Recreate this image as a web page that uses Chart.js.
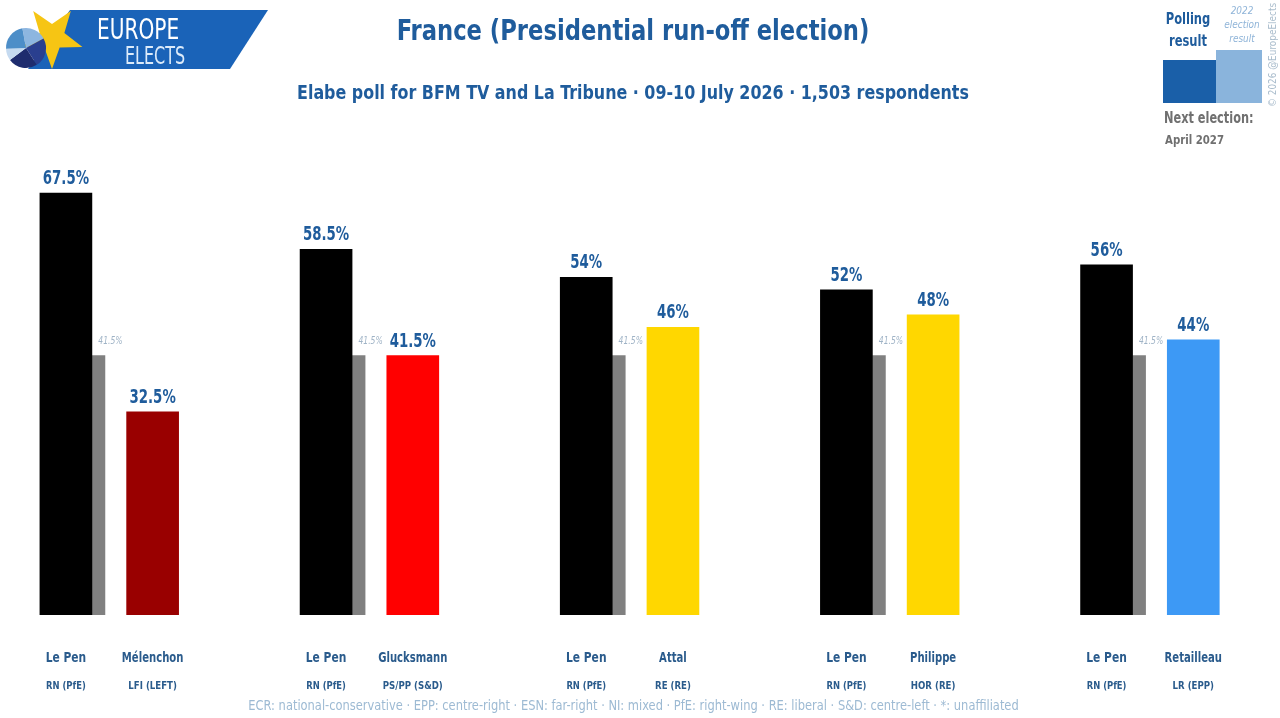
<!DOCTYPE html>
<html><head><meta charset="utf-8">
<script src="https://cdn.jsdelivr.net/npm/chart.js@4"></script>
<style>html,body{margin:0;padding:0;background:#fff;overflow:hidden}canvas{display:block}</style>
</head><body>
<canvas id="c" width="1280" height="718"></canvas>
<script>
// ---- data ----
const lePenName = 'Le Pen';
const lePenParty = 'RN (PfE)';
const challengerNames = ['Mélenchon', 'Glucksmann', 'Attal', 'Philippe', 'Retailleau'];
const challengerParties = ['LFI (LEFT)', 'PS/PP (S&D)', 'RE (RE)', 'HOR (RE)', 'LR (EPP)'];
const lePenValues = [67.5, 58.5, 54, 52, 56];
const challengerValues = [32.5, 41.5, 46, 48, 44];
const lePen2022Values = [41.5, 41.5, 41.5, 41.5, 41.5];
const challengerColors = ['#990000', '#ff0000', '#ffd700', '#ffd700', '#3d99f5'];

const titleText = 'France (Presidential run-off election)';
const subtitleText = 'Elabe poll for BFM TV and La Tribune · 09-10 July 2026 · 1,503 respondents';
const footnoteText = 'ECR: national-conservative · EPP: centre-right · ESN: far-right · NI: mixed · PfE: right-wing · RE: liberal · S&D: centre-left · *: unaffiliated';

// ---- layout helpers ----
const FONT = "'Liberation Sans Narrow', 'DejaVu Sans Condensed', 'Noto Sans', sans-serif";
const BLUE = '#1f5c9c';
const SLOT = 3;          // slots per matchup
const GREY_OFFSET = 0.375;
const fmt = v => String(v) + '%';

// draws text horizontally condensed by factor sx
function txt(ctx, s, x, y, font, color, align, sx, baseline) {
  ctx.save();
  ctx.font = font;
  ctx.fillStyle = color;
  ctx.textAlign = align || 'center';
  ctx.textBaseline = baseline || 'middle';
  ctx.translate(x, y);
  ctx.scale(sx || 1, 1);
  ctx.fillText(s, 0, 0);
  ctx.restore();
}

function star(ctx, cx, cy, ro, ri, rot) {
  ctx.beginPath();
  for (let i = 0; i < 10; i++) {
    const r = i % 2 === 0 ? ro : ri;
    const a = rot + i * Math.PI / 5 - Math.PI / 2;
    const px = cx + r * Math.cos(a), py = cy + r * Math.sin(a);
    i === 0 ? ctx.moveTo(px, py) : ctx.lineTo(px, py);
  }
  ctx.closePath();
  ctx.fill();
}

const decorPlugin = {
  id: 'decor',
  beforeDraw(chart) {
    const ctx = chart.ctx;
    ctx.save();
    ctx.fillStyle = '#fff';
    ctx.fillRect(0, 0, chart.width, chart.height);
    // logo band
    ctx.fillStyle = '#1a63b8';
    ctx.beginPath();
    ctx.moveTo(70, 10); ctx.lineTo(268, 10); ctx.lineTo(230, 69); ctx.lineTo(28, 69); ctx.closePath();
    ctx.fill();
    // star
    ctx.fillStyle = '#f6c514';
    star(ctx, 52, 37, 32, 13, Math.PI / 5);
    // pie
    const pcx = 26, pcy = 48, pr = 20;
    const slices = [[-1.75, -0.5, '#8db6e0'], [-0.5, 1.0, '#2a3f8f'], [1.0, 2.5, '#1e2c6e'], [2.5, 3.1, '#c5daf0'], [3.1, 4.53, '#4d8ec8']];
    slices.forEach(s => {
      ctx.fillStyle = s[2];
      ctx.beginPath(); ctx.moveTo(pcx, pcy); ctx.arc(pcx, pcy, pr, s[0], s[1]); ctx.closePath(); ctx.fill();
    });
    // logo text
    txt(ctx, 'EUROPE', 97, 39, '28px ' + FONT, '#ffffff', 'left', 0.8, 'alphabetic');
    txt(ctx, 'ELECTS', 125, 64, '24px ' + FONT, '#dcebfa', 'left', 0.74, 'alphabetic');

    // titles
    txt(ctx, titleText, 633, 33, 'bold 28px ' + FONT, BLUE, 'center', 0.9);
    txt(ctx, subtitleText, 633, 94, 'bold 20px ' + FONT, BLUE, 'center', 0.884);
    txt(ctx, footnoteText, 633.5, 706, '14px ' + FONT, '#9dbad3', 'center', 0.91);

    // legend
    txt(ctx, 'Polling', 1188, 20, 'bold 16px ' + FONT, BLUE, 'center', 0.8);
    txt(ctx, 'result', 1188, 42, 'bold 16px ' + FONT, BLUE, 'center', 0.8);
    txt(ctx, '2022', 1242, 11, 'italic 11px ' + FONT, '#8fb4d8', 'center', 0.9);
    txt(ctx, 'election', 1242, 25, 'italic 11px ' + FONT, '#8fb4d8', 'center', 0.9);
    txt(ctx, 'result', 1242, 39, 'italic 11px ' + FONT, '#8fb4d8', 'center', 0.9);
    ctx.fillStyle = '#1a5fa8';
    ctx.fillRect(1163, 60, 53, 43);
    ctx.fillStyle = '#8ab4dc';
    ctx.fillRect(1216, 50, 46, 53);
    txt(ctx, 'Next election:', 1164, 119, 'bold 15px ' + FONT, '#707070', 'left', 0.84);
    txt(ctx, 'April 2027', 1165, 141, 'bold 13px ' + FONT, '#707070', 'left', 0.87);
    // copyright (vertical)
    ctx.save();
    ctx.translate(1273, 55);
    ctx.rotate(-Math.PI / 2);
    txt(ctx, '© 2026 @EuropeElects', 0, 0, '11px ' + FONT, '#a9bccc', 'center', 0.9);
    ctx.restore();
    ctx.restore();
  },
  afterDatasetsDraw(chart) {
    const ctx = chart.ctx;
    const xs = chart.scales.x;
    const bottom = chart.chartArea.bottom;
    // value labels
    [0, 2].forEach(di => {
      const meta = chart.getDatasetMeta(di);
      const vals = chart.data.datasets[di].data;
      meta.data.forEach((bar, i) => {
        txt(ctx, fmt(vals[i].y), bar.x, bar.y - 9, 'bold 19px ' + FONT, BLUE, 'center', 0.78, 'alphabetic');
      });
    });
    // 2022 labels
    chart.getDatasetMeta(1).data.forEach((bar, i) => {
      txt(ctx, fmt(lePen2022Values[i]), bar.x + 12, bar.y - 14, 'italic 10px ' + FONT, '#9fb3c6', 'center', 0.85);
    });
    // candidate names & parties
    challengerNames.forEach((name, g) => {
      const xl = xs.getPixelForValue(g * SLOT);
      const xc = xs.getPixelForValue(g * SLOT + 1);
      txt(ctx, lePenName, xl, bottom + 43, 'bold 14px ' + FONT, '#2a5b8c', 'center', 0.85);
      txt(ctx, name, xc, bottom + 43, 'bold 14px ' + FONT, '#2a5b8c', 'center', 0.8);
      txt(ctx, lePenParty, xl, bottom + 71, 'bold 11px ' + FONT, '#2a5b8c', 'center', 0.85);
      txt(ctx, challengerParties[g], xc, bottom + 71, 'bold 11px ' + FONT, '#2a5b8c', 'center', 0.87);
    });
  }
};

new Chart(document.getElementById('c'), {
  type: 'bar',
  data: {
    datasets: [
      {
        label: 'Le Pen',
        data: lePenValues.map((v, g) => ({ x: g * SLOT, y: v })),
        backgroundColor: '#000000',
        barThickness: 52,
        grouped: false
      },
      {
        label: '2022',
        data: lePen2022Values.map((v, g) => ({ x: g * SLOT + GREY_OFFSET, y: v })),
        backgroundColor: '#808080',
        barThickness: 13,
        grouped: false
      },
      {
        label: 'Challenger',
        data: challengerValues.map((v, g) => ({ x: g * SLOT + 1, y: v })),
        backgroundColor: challengerColors,
        barThickness: 52,
        grouped: false
      }
    ]
  },
  options: {
    responsive: false,
    devicePixelRatio: 1,
    animation: false,
    layout: { padding: { top: 177.4, bottom: 103, left: 0, right: 0 } },
    plugins: { legend: { display: false }, tooltip: { enabled: false }, title: { display: false } },
    scales: {
      x: { type: 'linear', min: -0.76, max: 14.0, display: false, offset: false },
      y: { min: 0, max: 70, display: false }
    }
  },
  plugins: [decorPlugin]
});
</script>
</body></html>
